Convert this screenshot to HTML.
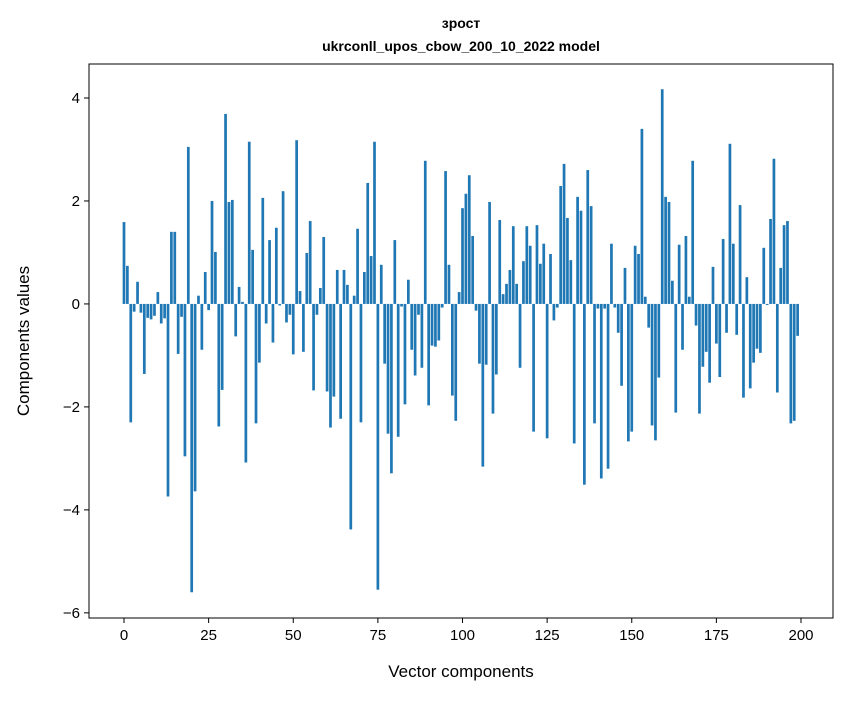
<!DOCTYPE html>
<html><head><meta charset="utf-8"><style>
body{margin:0;background:#fff;font-family:"Liberation Sans","DejaVu Sans",sans-serif}
svg text{font-family:"Liberation Sans","DejaVu Sans",sans-serif}
</style></head><body>
<svg id="chart" width="847" height="696" xmlns="http://www.w3.org/2000/svg">
<rect width="847" height="696" fill="#fff"/>
<text x="461" y="28" text-anchor="middle" font-size="14" font-weight="bold">зрост</text>
<text x="461" y="51" text-anchor="middle" font-size="14" font-weight="bold">ukrconll_upos_cbow_200_10_2022 model</text>
<g id="bars"></g>
<g id="axes"></g>
<rect x="89" y="64" width="744" height="554" fill="none" stroke="#000" stroke-width="1"/>
<text x="461" y="677" text-anchor="middle" font-size="17">Vector components</text>
<text transform="translate(29,341) rotate(-90)" text-anchor="middle" font-size="17">Components values</text>
</svg>
<script>
const values = [1.59,0.74,-2.30,-0.15,0.43,-0.17,-1.36,-0.27,-0.30,-0.23,0.23,-0.38,-0.28,-3.74,1.40,1.40,-0.97,-0.25,-2.96,3.05,
-5.60,-3.64,0.16,-0.89,0.62,-0.12,2.00,1.01,-2.38,-1.67,3.69,1.98,2.02,-0.63,0.33,0.04,-3.08,3.15,1.05,-2.32,
-1.14,2.06,-0.38,1.24,-0.75,1.48,-0.03,2.19,-0.36,-0.21,-0.98,3.18,0.25,-0.93,0.99,1.61,-1.68,-0.21,0.31,1.30,
-1.70,-2.40,-1.80,0.66,-2.23,0.66,0.37,-4.38,0.16,1.46,-2.30,0.62,2.35,0.93,3.15,-5.55,0.76,-1.16,-2.52,-3.29,
1.24,-2.58,-0.05,-1.95,0.47,-0.89,-1.39,-0.21,-1.24,2.78,-1.97,-0.81,-0.83,-0.71,-0.07,2.58,0.76,-1.78,-2.27,0.23,
1.86,2.14,2.50,1.32,-0.13,-1.16,-3.16,-1.18,1.98,-2.13,-1.37,1.63,0.19,0.39,0.66,1.51,0.39,-1.24,0.83,1.51,
1.13,-2.48,1.53,0.78,1.17,-2.61,0.97,-0.32,-0.07,2.29,2.72,1.67,0.85,-2.71,2.08,1.81,-3.51,2.60,1.90,-2.32,
-0.09,-3.39,-0.09,-3.20,1.17,-0.07,-0.56,-1.59,0.70,-2.67,-2.48,1.13,0.97,3.40,0.14,-0.46,-2.36,-2.65,-1.43,4.17,
2.08,1.98,0.45,-2.11,1.15,-0.89,1.32,0.14,2.78,-0.42,-2.13,-1.22,-0.93,-1.53,0.72,-0.77,-1.42,1.26,-0.56,3.11,
1.17,-0.60,1.92,-1.82,0.52,-1.64,-1.14,-0.87,-0.95,1.09,-0.02,1.65,2.82,-1.72,0.70,1.53,1.61,-2.32,-2.27,-0.62];
const xTicks = [0,25,50,75,100,125,150,175,200];
const yTicks = [-6,-4,-2,0,2,4];
const NS = "http://www.w3.org/2000/svg";
const L=89,R=833,T=64,B=618;
const xMin=-10.34,xMax=209.45,yMin=-6.10,yMax=4.66;
function xs(v){return L+(v-xMin)/(xMax-xMin)*(R-L);}
function ys(v){return B-(v-yMin)/(yMax-yMin)*(B-T);}
const bars=document.getElementById('bars');
const bw=(xs(0.8)-xs(0));
values.forEach((v,i)=>{
  const r=document.createElementNS(NS,'rect');
  const y0=ys(0),y1=ys(v);
  r.setAttribute('x',xs(i)-bw/2);
  r.setAttribute('y',Math.min(y0,y1));
  r.setAttribute('width',bw);
  r.setAttribute('height',Math.abs(y1-y0));
  r.setAttribute('fill','#1f77b4');
  
  
  bars.appendChild(r);
});
const axes=document.getElementById('axes');
xTicks.forEach(t=>{
  const x=xs(t);
  const l=document.createElementNS(NS,'line');
  l.setAttribute('x1',x);l.setAttribute('x2',x);l.setAttribute('y1',B);l.setAttribute('y2',B+5);
  l.setAttribute('stroke','#000');
  
  
  axes.appendChild(l);
  const tx=document.createElementNS(NS,'text');
  tx.setAttribute('x',x);tx.setAttribute('y',B+22);tx.setAttribute('text-anchor','middle');tx.setAttribute('font-size','15');
  tx.textContent=t;
  
  
  axes.appendChild(tx);
});
yTicks.forEach(t=>{
  const y=ys(t);
  const l=document.createElementNS(NS,'line');
  l.setAttribute('x1',L-5);l.setAttribute('x2',L);l.setAttribute('y1',y);l.setAttribute('y2',y);
  l.setAttribute('stroke','#000');
  
  
  axes.appendChild(l);
  const tx=document.createElementNS(NS,'text');
  tx.setAttribute('x',L-9);tx.setAttribute('y',y+5);tx.setAttribute('text-anchor','end');tx.setAttribute('font-size','15');
  tx.textContent=(t<0?'\u2212'+(-t):String(t));
  
  
  axes.appendChild(tx);
});
</script>
</body></html>
